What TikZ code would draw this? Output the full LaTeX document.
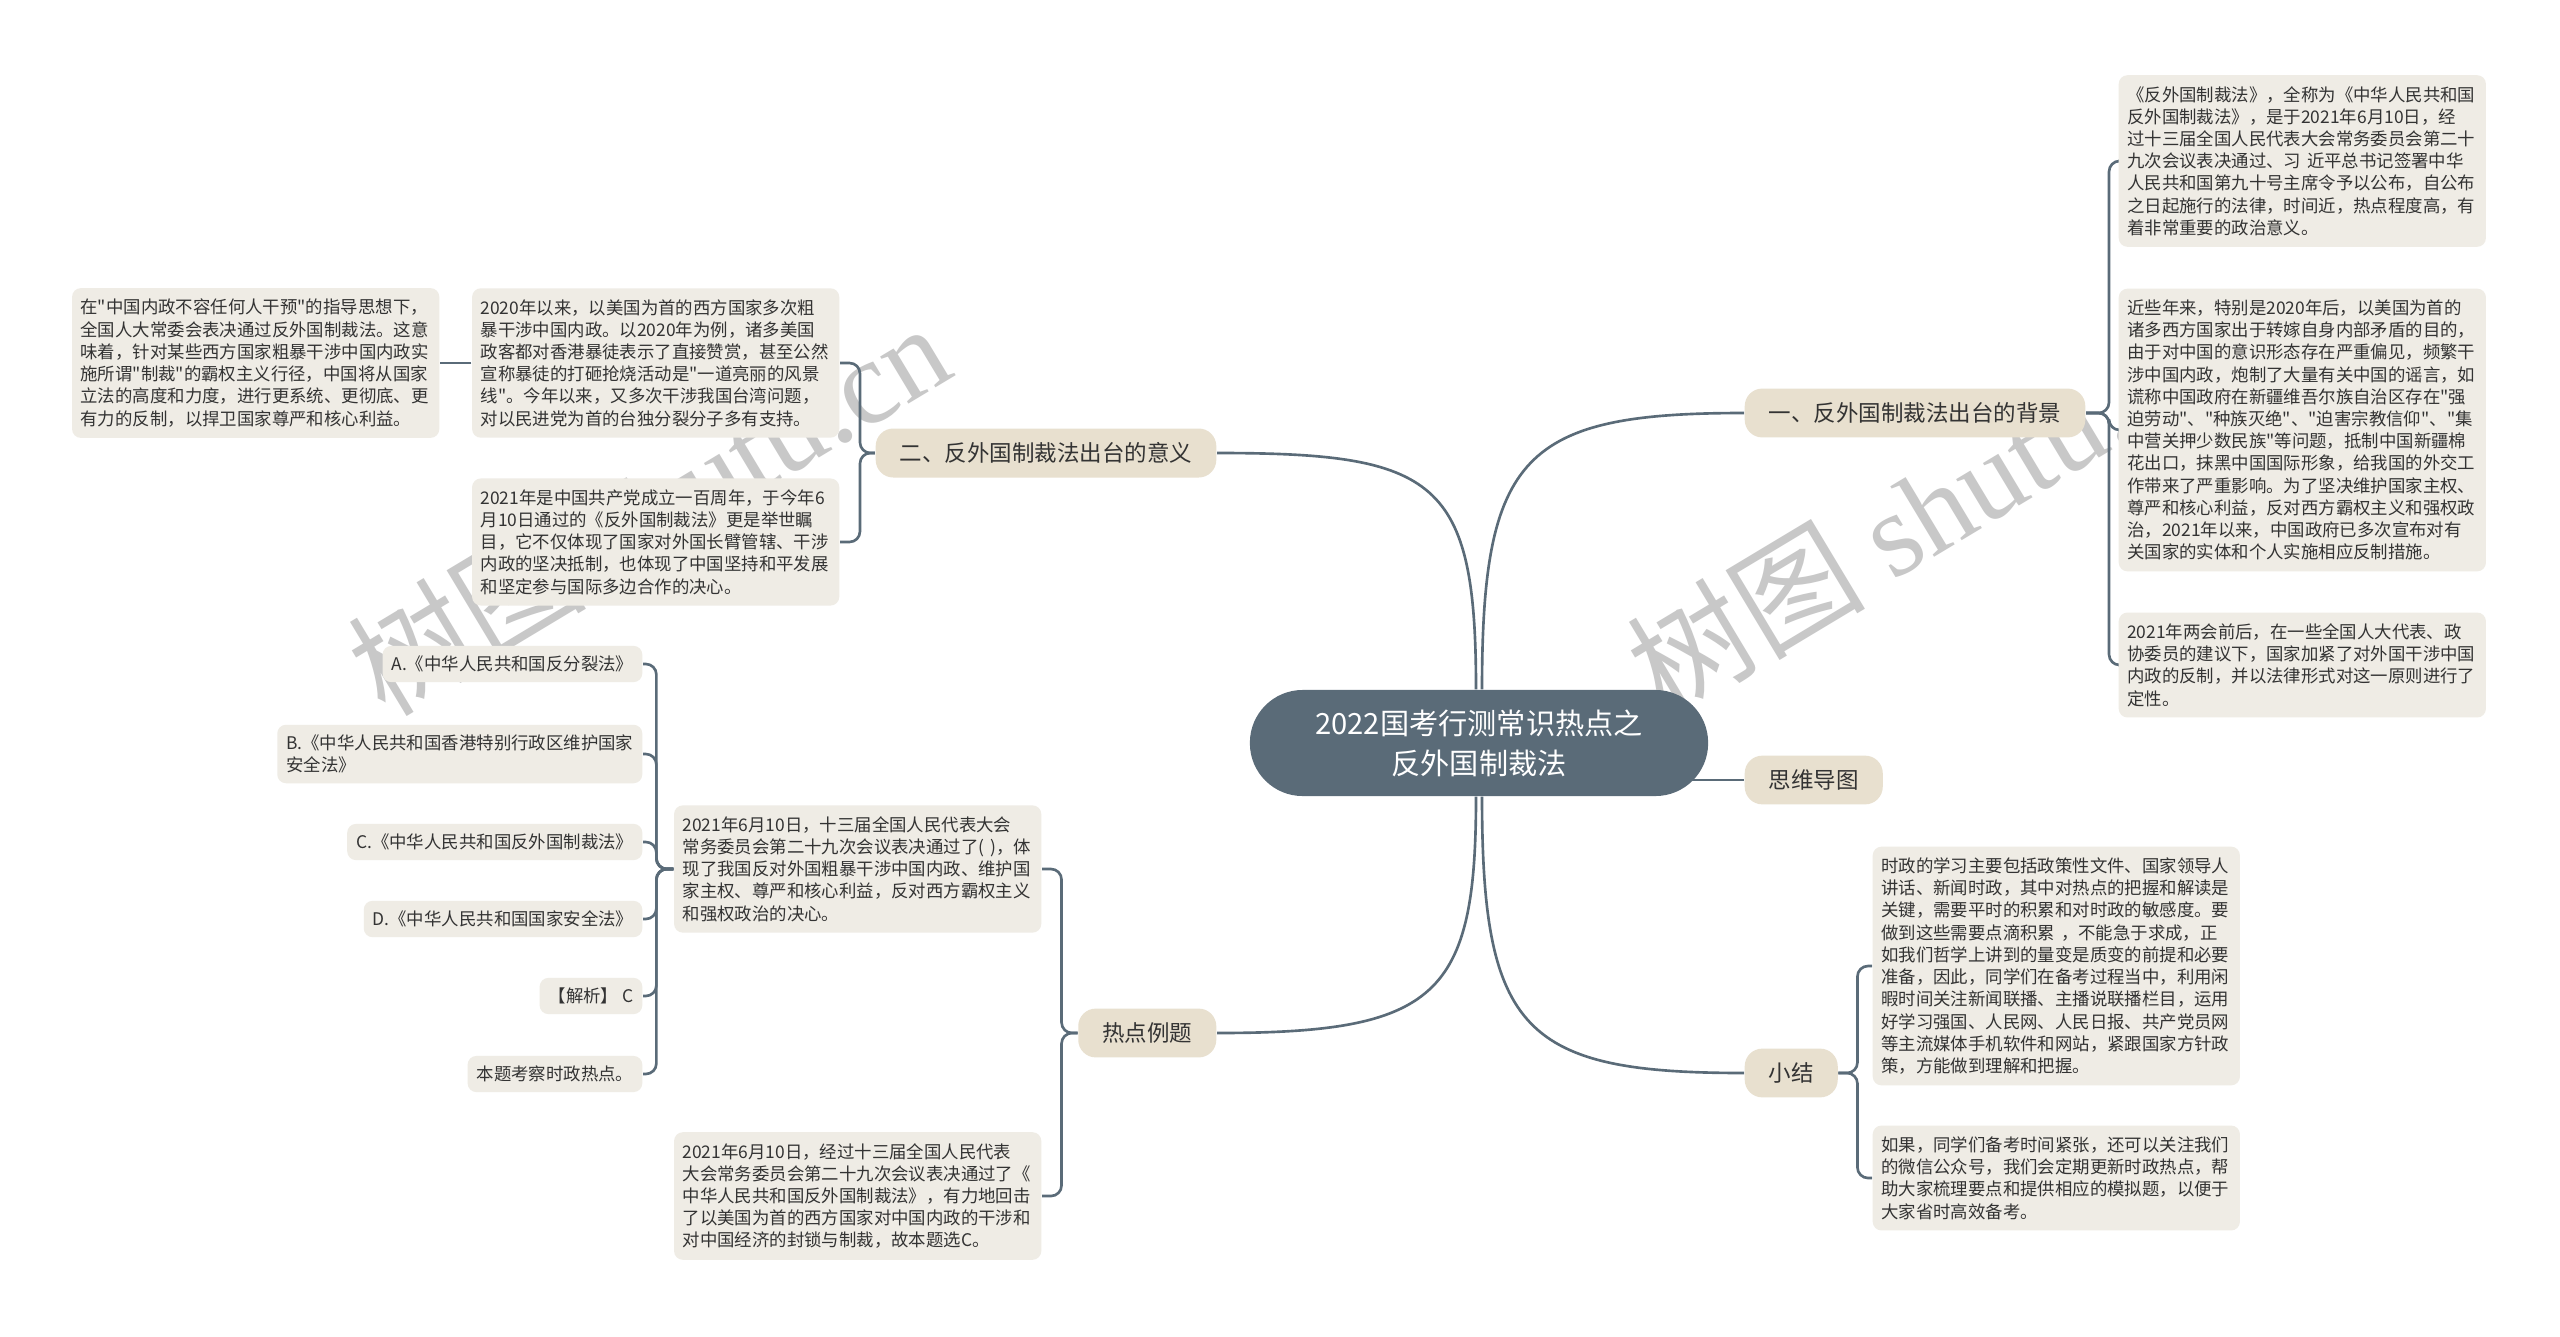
\documentclass[tikz,border=0pt]{standalone}
\usepackage{fontspec}
\usepackage{tikz}
\usetikzlibrary{backgrounds}
\newfontfamily\cjk{Noto Sans CJK SC}[Ligatures=TeXOff]
\newfontfamily\wmserif{Liberation Serif}
\definecolor{slate}{HTML}{5A6B78}
\definecolor{branchfill}{HTML}{E8E0CF}
\definecolor{leaffill}{HTML}{EFECE5}
\definecolor{ink}{HTML}{333333}
\definecolor{wmgray}{HTML}{C8C8C8}

\begin{document}
\begin{tikzpicture}[
    x=0.01cm, y=-0.01cm,
    link/.style={draw=slate, line width=0.75pt},
    brace/.style={link, rounded corners=3pt},
    rootbox/.style={fill=slate, rounded corners=15pt, minimum width=4.58cm, minimum height=1.06cm,
        align=center, text=white, font=\cjk\fontsize{8.3}{11.4}\selectfont},
    branch/.style={fill=branchfill, rounded corners=5pt, inner xsep=0.24cm, inner ysep=0.14cm,
        text=ink, font=\cjk\fontsize{6.4}{7.7}\selectfont},
    card/.style={fill=leaffill, rounded corners=2.5pt, inner xsep=0.09cm, inner ysep=0.1cm,
        align=left, text=ink, font=\cjk\fontsize{4.95}{6.32}\selectfont},
    leaf/.style={card, text width=3.5cm, inner xsep=0.085cm, inner ysep=0.11cm},
    option/.style={card, anchor=east}
]

\useasboundingbox (0,0) rectangle (2560,1336);

% Centre
\node[rootbox] (root) at (1479,743) {2022国考行测常识热点之\\反外国制裁法};

% Right branches
\node[branch, anchor=west] (bkg) at (1744,413) {一、反外国制裁法出台的背景};
\node[branch, anchor=west] (mind) at (1744,780) {思维导图};
\node[branch, anchor=west] (summ) at (1744,1073) {小结};

\node[leaf, anchor=west] (r1) at (2118,161) {《反外国制裁法》，全称为《中华人民共和国\\反外国制裁法》，是于2021年6月10日，经\\过十三届全国人民代表大会常务委员会第二十\\九次会议表决通过、习 近平总书记签署中华\\人民共和国第九十号主席令予以公布，自公布\\之日起施行的法律，时间近，热点程度高，有\\着非常重要的政治意义。};
\node[leaf, anchor=west] (r2) at (2118,430) {近些年来，特别是2020年后，以美国为首的\\诸多西方国家出于转嫁自身内部矛盾的目的，\\由于对中国的意识形态存在严重偏见，频繁干\\涉中国内政，炮制了大量有关中国的谣言，如\\谎称中国政府在新疆维吾尔族自治区存在"强\\迫劳动"、"种族灭绝"、"迫害宗教信仰"、"集\\中营关押少数民族"等问题，抵制中国新疆棉\\花出口，抹黑中国国际形象，给我国的外交工\\作带来了严重影响。为了坚决维护国家主权、\\尊严和核心利益，反对西方霸权主义和强权政\\治，2021年以来，中国政府已多次宣布对有\\关国家的实体和个人实施相应反制措施。};
\node[leaf, anchor=west] (r3) at (2118,665) {2021年两会前后，在一些全国人大代表、政\\协委员的建议下，国家加紧了对外国干涉中国\\内政的反制，并以法律形式对这一原则进行了\\定性。};

\node[leaf, anchor=west] (s1) at (1872,966) {时政的学习主要包括政策性文件、国家领导人\\讲话、新闻时政，其中对热点的把握和解读是\\关键，需要平时的积累和对时政的敏感度。要\\做到这些需要点滴积累 ，不能急于求成，正\\如我们哲学上讲到的量变是质变的前提和必要\\准备，因此，同学们在备考过程当中，利用闲\\暇时间关注新闻联播、主播说联播栏目，运用\\好学习强国、人民网、人民日报、共产党员网\\等主流媒体手机软件和网站，紧跟国家方针政\\策，方能做到理解和把握。};
\node[leaf, anchor=west] (s2) at (1872,1178) {如果，同学们备考时间紧张，还可以关注我们\\的微信公众号，我们会定期更新时政热点，帮\\助大家梳理要点和提供相应的模拟题，以便于\\大家省时高效备考。};

% Left branches
\node[branch, anchor=east] (sig) at (1217,453) {二、反外国制裁法出台的意义};
\node[branch, anchor=east] (ex) at (1217,1033) {热点例题};

\node[leaf, anchor=east] (y1) at (840,363) {2020年以来，以美国为首的西方国家多次粗\\暴干涉中国内政。以2020年为例，诸多美国\\政客都对香港暴徒表示了直接赞赏，甚至公然\\宣称暴徒的打砸抢烧活动是"一道亮丽的风景\\线"。今年以来，又多次干涉我国台湾问题，\\对以民进党为首的台独分裂分子多有支持。};
\node[leaf, anchor=east] (y2) at (840,542) {2021年是中国共产党成立一百周年，于今年6\\月10日通过的《反外国制裁法》更是举世瞩\\目，它不仅体现了国家对外国长臂管辖、干涉\\内政的坚决抵制，也体现了中国坚持和平发展\\和坚定参与国际多边合作的决心。};
\node[leaf, anchor=east] (y0) at (440,363) {在"中国内政不容任何人干预"的指导思想下，\\全国人大常委会表决通过反外国制裁法。这意\\味着，针对某些西方国家粗暴干涉中国内政实\\施所谓"制裁"的霸权主义行径，中国将从国家\\立法的高度和力度，进行更系统、更彻底、更\\有力的反制，以捍卫国家尊严和核心利益。};

\node[leaf, anchor=east] (q) at (1042,869) {2021年6月10日，十三届全国人民代表大会\\常务委员会第二十九次会议表决通过了(~)，体\\现了我国反对外国粗暴干涉中国内政、维护国\\家主权、尊严和核心利益，反对西方霸权主义\\和强权政治的决心。};
\node[leaf, anchor=east] (ans) at (1042,1196) {2021年6月10日，经过十三届全国人民代表\\大会常务委员会第二十九次会议表决通过了《\\中华人民共和国反外国制裁法》，有力地回击\\了以美国为首的西方国家对中国内政的干涉和\\对中国经济的封锁与制裁，故本题选C。};

% Options
\node[option] (oa) at (643,664) {A.《中华人民共和国反分裂法》};
\node[option] (ob) at (643,754) {B.《中华人民共和国香港特别行政区维护国家\\安全法》};
\node[option] (oc) at (643,842) {C.《中华人民共和国反外国制裁法》};
\node[option] (od) at (643,919) {D.《中华人民共和国国家安全法》};
\node[option] (ojx) at (643,996) {【解析】 C};
\node[option] (obt) at (643,1074) {本题考察时政热点。};

\begin{scope}[on background layer]
% Paper and watermark
\fill[white] (0,0) rectangle (2560,1336);
\foreach \wx in {648,1927}
    \node[rotate=31, text=wmgray, font=\cjk\fontsize{34}{34}\selectfont] (wm\wx) at (\wx,508)
        {树图 {\wmserif shutu.cn}};

% Root links
\draw[link] ([xshift=0.03cm]root.north) .. controls +(0,-235) and +(-220,0) .. (bkg.west);
\draw[link] ([xshift=-0.03cm]root.north) .. controls +(0,-210) and +(220,0) .. (sig.east);
\draw[link] ([xshift=-0.03cm]root.south) .. controls +(0,200) and +(220,0) .. (ex.east);
\draw[link] ([xshift=0.03cm]root.south) .. controls +(0,235) and +(-220,0) .. (summ.west);
\draw[link] (root.center |- mind.west) -- (mind.west);

% Braces
\foreach \n in {r1,r2,r3}
    \draw[brace] (bkg.east) -- ++(23,0) |- (\n.west);
\foreach \n in {s1,s2}
    \draw[brace] (summ.east) -- ++(19,0) |- (\n.west);
\foreach \n in {y1,y2}
    \draw[brace] (sig.west) -- ++(-15,0) |- (\n.east);
\foreach \n in {q,ans}
    \draw[brace] (ex.west) -- ++(-16,0) |- (\n.east);
\foreach \n in {oa,ob,oc,od,ojx,obt}
    \draw[brace] (q.west) -- ++(-17,0) |- (\n.east);
\draw[link] (y1.west) -- (y0.east);
\end{scope}

\end{tikzpicture}
\end{document}
